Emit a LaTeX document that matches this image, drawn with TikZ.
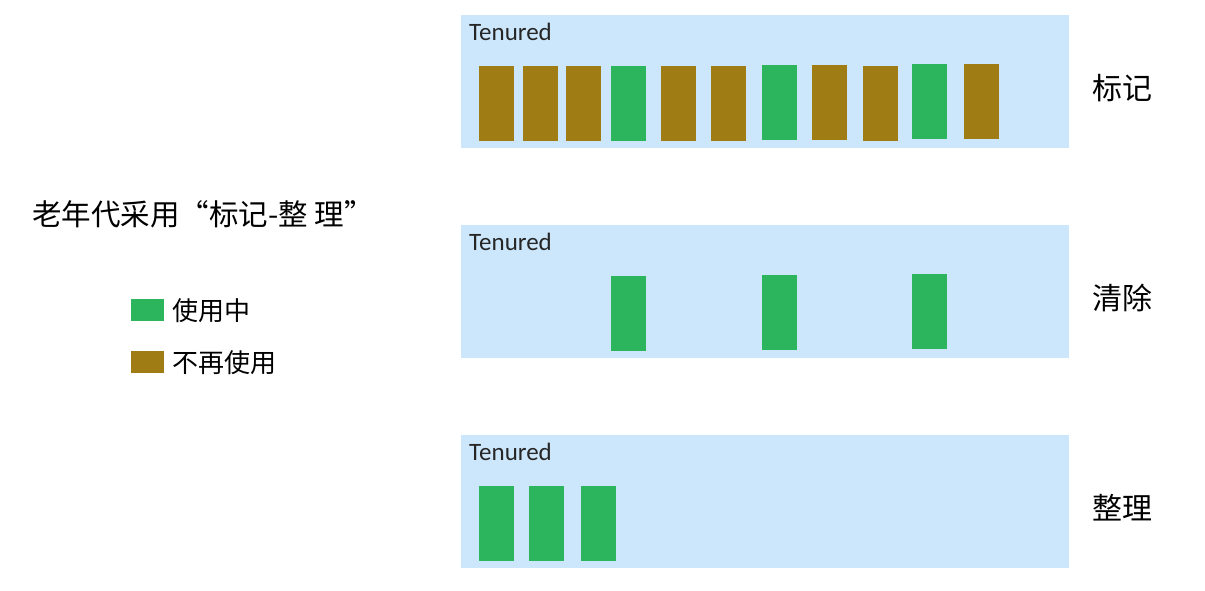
\documentclass[tikz,border=0pt]{standalone}
\usepackage{fontspec}
\newfontfamily\cjk{Noto Sans CJK SC}
\newfontfamily\lat{Carlito}
\definecolor{panelblue}{RGB}{204,231,252}
\definecolor{usegreen}{RGB}{45,181,93}
\definecolor{oldbrown}{RGB}{160,125,20}
\begin{document}
\begin{tikzpicture}[x=1pt,y=-1pt,
  panel/.style={fill=panelblue,draw=none,inner sep=0pt,minimum width=608pt,minimum height=133pt,anchor=north west},
  barg/.style={fill=usegreen,draw=none,inner sep=0pt,minimum width=35pt,minimum height=75pt,anchor=north west},
  barb/.style={fill=oldbrown,draw=none,inner sep=0pt,minimum width=35pt,minimum height=75pt,anchor=north west},
  ten/.style={font=\lat\fontsize{25}{29}\selectfont,text=black!85,anchor=base west,inner sep=0pt},
  stage/.style={font=\cjk\fontsize{30}{34}\selectfont,anchor=west,inner sep=0pt},
  titletxt/.style={font=\cjk\fontsize{29.5}{33}\selectfont,anchor=west,inner sep=0pt},
  legtxt/.style={font=\cjk\fontsize{26}{30}\selectfont,anchor=west,inner sep=0pt},
  legbox/.style={draw=none,inner sep=0pt,minimum width=33pt,minimum height=22pt,anchor=north west}]
\useasboundingbox (0,0) rectangle (1205,590);
\fill[white] (0,0) rectangle (1205,590);
% panels
\node[panel] (p1) at (461,15) {};
\node[panel] (p2) at (461,225) {};
\node[panel] (p3) at (461,435) {};
\node[ten] (t1) at (469,40) {Tenured};
\node[ten] (t2) at (469,250) {Tenured};
\node[ten] (t3) at (469,460) {Tenured};
% panel 1 bars
\node[barb] (a1) at (479,66) {};
\node[barb] (a2) at (523,66) {};
\node[barb] (a3) at (566,66) {};
\node[barg] (a4) at (611,66) {};
\node[barb] (a5) at (661,66) {};
\node[barb] (a6) at (711,66) {};
\node[barg] (a7) at (762,65) {};
\node[barb] (a8) at (812,65) {};
\node[barb] (a9) at (863,66) {};
\node[barg] (a10) at (912,64) {};
\node[barb] (a11) at (964,64) {};
% panel 2 bars
\node[barg] (b1) at (611,276) {};
\node[barg] (b2) at (762,275) {};
\node[barg] (b3) at (912,274) {};
% panel 3 bars
\node[barg] (c1) at (479,486) {};
\node[barg] (c2) at (529,486) {};
\node[barg] (c3) at (581,486) {};
% stage labels
\node[stage] (s1) at (1092,88) {标记};
\node[stage] (s2) at (1092,298) {清除};
\node[stage] (s3) at (1092,508) {整理};
% title
\node[titletxt] (title) at (32,214) {老年代采用“标记-整 理”};
% legend
\node[legbox,fill=usegreen] (lg) at (131,299) {};
\node[legtxt] (lgt) at (172,311) {使用中};
\node[legbox,fill=oldbrown] (lb) at (131,351) {};
\node[legtxt] (lbt) at (172,363) {不再使用};
\end{tikzpicture}
\end{document}
